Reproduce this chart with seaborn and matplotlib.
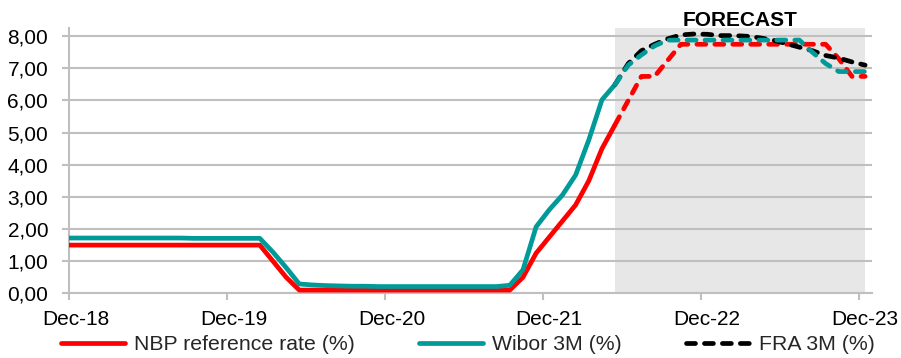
import numpy as np
import pandas as pd
import matplotlib
matplotlib.use("Agg")
import matplotlib.pyplot as plt
from matplotlib.lines import Line2D
import seaborn as sns

# ---- data -------------------------------------------------------------
months = pd.period_range("2018-11", "2023-12", freq="M")
actual_months = months[:43]      # Nov-18 .. May-22
forecast_months = months[42:]    # May-22 .. Dec-23

nbp_actual = [1.50] * 16 + [1.00, 0.50, 0.10] + [0.10] * 16 + \
             [0.50, 1.25, 1.75, 2.25, 2.75, 3.50, 4.50, 5.25]
wibor_actual = [1.72] * 10 + [1.71] * 6 + \
               [1.28, 0.80, 0.29, 0.26, 0.24, 0.23, 0.22, 0.22, 0.21, 0.21] + \
               [0.21] * 8 + \
               [0.25, 0.73, 2.07, 2.60, 3.06, 3.68, 4.77, 6.02, 6.50]

nbp_forecast = [5.25, 6.00, 6.75, 6.75, 7.25, 7.75, 7.75, 7.75] + [7.75] * 9 + \
               [7.30, 6.75, 6.75]
wibor_forecast = [6.50, 7.10, 7.42, 7.70, 7.88, 7.88, 7.88, 7.88] + [7.88] * 6 + \
                 [7.88, 7.50, 7.15, 6.90, 6.90, 6.90]
fra_forecast = [6.50, 7.15, 7.55, 7.75, 7.92, 8.04, 8.07, 8.06,
                8.02, 8.02, 8.00, 7.95, 7.88, 7.77, 7.66, 7.55, 7.40, 7.32, 7.20, 7.10]

series_labels = ["NBP reference rate (%)", "Wibor 3M (%)", "FRA 3M (%)"]
x_tick_labels = ["Dec-18", "Dec-19", "Dec-20", "Dec-21", "Dec-22", "Dec-23"]
y_ticks = [0, 1, 2, 3, 4, 5, 6, 7, 8]
forecast_label = "FORECAST"

# ---- positions: one slot per month, points in the middle of the slot ---
origin = pd.Period("2018-12", freq="M")


def slot_centre(periods):
    return np.array([(p - origin).n for p in periods], dtype=float) + 0.5


actual = pd.DataFrame({"x": slot_centre(actual_months),
                       "nbp": nbp_actual, "wibor": wibor_actual})
forecast = pd.DataFrame({"x": slot_centre(forecast_months),
                         "nbp": nbp_forecast, "wibor": wibor_forecast,
                         "fra": fra_forecast})

# ---- style ------------------------------------------------------------
sns.set_theme(style="white")
plt.rcParams["font.family"] = ["Liberation Sans", "DejaVu Sans"]

RED = "#FF0000"
TEAL = "#009A99"
BLACK = "#000000"
GRID = "#BFBFBF"
SHADE = "#E7E7E7"

fig = plt.figure(figsize=(9.01, 3.58), dpi=100)
ax = fig.add_axes([69 / 901, 1 - 293.3 / 358, (871.7 - 69) / 901, (293.3 - 28.2) / 358])

LW = 3.4
dash = (1.9, 1.9)

# forecast window
span_start, span_end = forecast["x"].iloc[0], forecast["x"].iloc[-1]
ax.axvspan(span_start, span_end, color=SHADE, zorder=0.2, lw=0)

sns.lineplot(data=actual, x="x", y="nbp", ax=ax, color=RED, lw=LW, zorder=3,
             solid_capstyle="butt", solid_joinstyle="round")
sns.lineplot(data=actual, x="x", y="wibor", ax=ax, color=TEAL, lw=LW, zorder=4,
             solid_capstyle="butt", solid_joinstyle="round")
sns.lineplot(data=forecast, x="x", y="nbp", ax=ax, color=RED, lw=LW, zorder=3,
             dashes=False)
sns.lineplot(data=forecast, x="x", y="fra", ax=ax, color=BLACK, lw=LW, zorder=4,
             dashes=False)
sns.lineplot(data=forecast, x="x", y="wibor", ax=ax, color=TEAL, lw=LW, zorder=5,
             dashes=False)

# dashed style for the forecast lines
for line in ax.get_lines()[2:]:
    line.set_dashes(dash)
    line.set_dash_capstyle("round")
    line.set_dash_joinstyle("round")

# ---- axes -------------------------------------------------------------
ax.set_xlim(0, 61)
ax.set_ylim(0, 8.25)
ax.set_xlabel("")
ax.set_ylabel("")

ax.set_yticks(y_ticks, [f"{v:.2f}".replace(".", ",") for v in y_ticks])
ax.set_xticks(np.arange(0, 61, 12), [""] * 6)
ax.set_xticks(np.arange(0, 61, 12) + 0.5, x_tick_labels, minor=True)

ax.yaxis.grid(True, color=GRID, lw=1.5)
ax.xaxis.grid(False)
ax.set_axisbelow(True)

for side in ["top", "right"]:
    ax.spines[side].set_visible(False)
for side in ["left", "bottom"]:
    ax.spines[side].set_color(GRID)
    ax.spines[side].set_linewidth(1.5)

ax.tick_params(axis="y", which="major", direction="out", length=5, width=1.5,
               color=GRID, pad=10, labelsize=15, labelcolor="#000000", left=True)
ax.tick_params(axis="x", which="major", direction="out", length=5, width=1.5,
               color=GRID, bottom=True)
ax.tick_params(axis="x", which="minor", length=0, pad=12, labelsize=15,
               labelcolor="#000000", bottom=True)

ax.text((span_start + span_end) / 2, 1.0 + 2 / 265, forecast_label,
        transform=ax.get_xaxis_transform(), ha="center", va="baseline",
        fontsize=15, fontweight="bold", color="#000000")

# ---- legend -----------------------------------------------------------
handles = [
    Line2D([], [], color=RED, lw=LW),
    Line2D([], [], color=TEAL, lw=LW),
    Line2D([], [], color=BLACK, lw=LW, dashes=dash, dash_capstyle="round"),
]
fig.legend(handles, series_labels, loc="center", ncol=3,
           bbox_to_anchor=(468 / 901, 1 - 345 / 358), frameon=False,
           fontsize=15.3, handlelength=3.0, handletextpad=0.45, columnspacing=3.0,
           borderaxespad=0, borderpad=0)

fig.savefig("out.png", dpi=100)
